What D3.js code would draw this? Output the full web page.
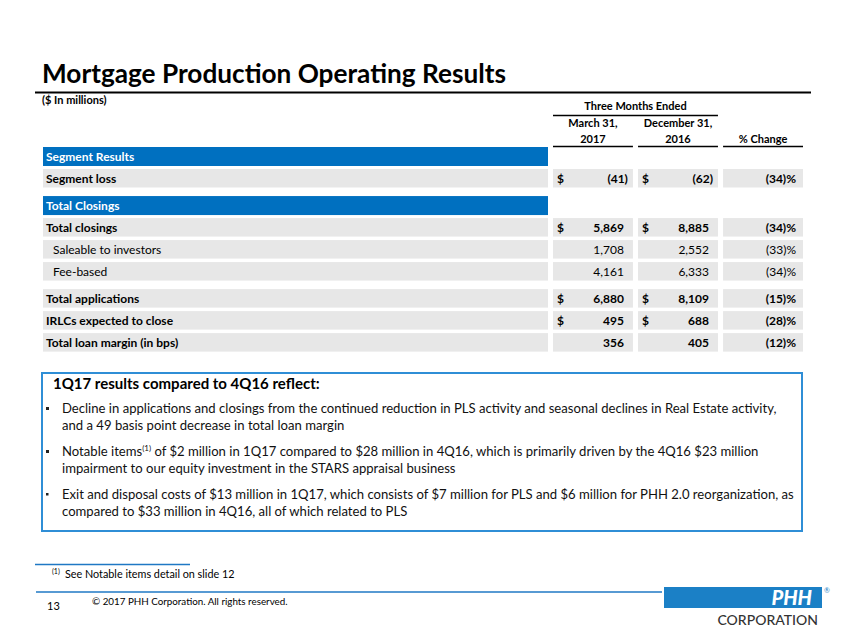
<!DOCTYPE html>
<html>
<head>
<meta charset="utf-8">
<script src="https://cdn.jsdelivr.net/npm/d3@7"></script>
<style>
  body { margin: 0; background: #fff; }
  text { font-family: Lato, "Open Sans", sans-serif; }
</style>
</head>
<body>
<svg id="chart" width="847" height="635"></svg>
<script>
let width = 847;
let height = 635;

let sections = ["Segment Results", "Total Closings"];
let rowLabels = ["Segment loss", "Total closings", "Saleable to investors", "Fee-based",
                 "Total applications", "IRLCs expected to close", "Total loan margin (in bps)"];
let rowGroup = [0, 1, 1, 1, 2, 2, 2];
let march2017 = [-41, 5869, 1708, 4161, 6880, 495, 356];
let dec2016 = [-62, 8885, 2552, 6333, 8109, 688, 405];
let pctChange = [-34, -34, -33, -34, -15, -28, -12];
let hasDollar = [true, true, false, false, true, true, false];
let isSubRow = [false, false, true, true, false, false, false];

let columnKeys = ["mar", "dec", "pct"];
let columnHeads = [["March 31,", "2017"], ["December 31,", "2016"], ["", "% Change"]];

let bullets = [
    ["Decline in applications and closings from the continued reduction in PLS activity and seasonal declines in Real Estate activity,",
     "and a 49 basis point decrease in total loan margin"],
    ["Notable items^ of $2 million in 1Q17 compared to $28 million in 4Q16, which is primarily driven by the 4Q16 $23 million",
     "impairment to our equity investment in the STARS appraisal business"],
    ["Exit and disposal costs of $13 million in 1Q17, which consists of $7 million for PLS and $6 million for PHH 2.0 reorganization, as",
     "compared to $33 million in 4Q16, all of which related to PLS"]
];

let blue = "#0070c0";
let lightBlue = "#2f8ed6";
let grey = "#e7e7e7";

let svg = d3.select("#chart");

let scaleRow = d3.scaleLinear().domain([0, 1]).range([147, 169]);
let scaleCol = d3.scaleBand().domain(columnKeys).range([553, 803]).paddingInner(0.06);
let labelLeft = 43, labelRight = 548;
let rowH = 18.5;

(function () {
    drawTitle();
    drawHeads();
    drawTable();
    drawBox();
    drawFooter();
}());

function buildRows() {
    let rows = [];
    let slot = 0;
    let lastGroup = -1;
    rowLabels.forEach(function(label, i) {
        let g = rowGroup[i];
        if (g !== lastGroup && sections[g]) {
            rows.push({ type: "head", label: sections[g], slot: slot + 0.23 * g });
            slot++;
        }
        lastGroup = g;
        rows.push({ type: "row", label: label, slot: slot + 0.23 * g, i: i,
            values: { mar: march2017[i], dec: dec2016[i], pct: pctChange[i] } });
        slot++;
    });
    return rows;
}

function drawTitle() {
    svg.append("text")
        .attr("x", 42).attr("y", 83)
        .style("font-size", "26.2px").style("font-weight", 700)
        .text("Mortgage Production Operating Results");
    svg.append("line")
        .attr("x1", 35).attr("x2", 811).attr("y1", 92.5).attr("y2", 92.5)
        .attr("stroke", "#000").attr("stroke-width", 2);
    svg.append("text")
        .attr("x", 42).attr("y", 104)
        .style("font-size", "11px").style("font-weight", 700)
        .text("($ In millions)");
}

function drawHeads() {
    let x0 = scaleCol("mar"), x1 = scaleCol("dec") + scaleCol.bandwidth();
    svg.append("text")
        .attr("x", (x0 + x1) / 2).attr("y", 110)
        .attr("text-anchor", "middle")
        .style("font-size", "11px").style("font-weight", 700)
        .text("Three Months Ended");
    svg.append("line")
        .attr("x1", x0).attr("x2", x1).attr("y1", 115.5).attr("y2", 115.5)
        .attr("stroke", "#000").attr("stroke-width", 1.5);

    columnKeys.forEach(function(key, index) {
        let cx = scaleCol(key) + scaleCol.bandwidth() / 2;
        columnHeads[index].forEach(function(t, j) {
            svg.append("text")
                .attr("x", cx).attr("y", 127 + j * 16)
                .attr("text-anchor", "middle")
                .style("font-size", "11px").style("font-weight", 700)
                .text(t);
        });
        svg.append("line")
            .attr("x1", scaleCol(key)).attr("x2", scaleCol(key) + scaleCol.bandwidth())
            .attr("y1", 146.5).attr("y2", 146.5)
            .attr("stroke", "#000").attr("stroke-width", 1.5);
    });
}

function drawTable() {
    let rows = buildRows();
    let fmt = d3.format(",");

    rows.forEach(function(r) {
        let top = scaleRow(r.slot);
        if (r.type === "head") {
            svg.append("rect")
                .attr("x", labelLeft).attr("y", top)
                .attr("width", labelRight - labelLeft).attr("height", rowH + 0.5)
                .attr("fill", blue);
            svg.append("text")
                .attr("x", labelLeft + 3).attr("y", top + 14)
                .attr("fill", "#fff")
                .style("font-size", "12px").style("font-weight", 700)
                .text(r.label);
            return;
        }
        let bold = !isSubRow[r.i];
        let weight = bold ? 700 : 400;

        svg.append("rect")
            .attr("x", labelLeft).attr("y", top)
            .attr("width", labelRight - labelLeft).attr("height", rowH)
            .attr("fill", grey);
        svg.append("text")
            .attr("x", labelLeft + (bold ? 3 : 10)).attr("y", top + 13.5)
            .style("font-size", "12px").style("font-weight", weight)
            .text(r.label);

        columnKeys.forEach(function(key) {
            let bx = scaleCol(key), bw = scaleCol.bandwidth();
            let v = r.values[key];
            svg.append("rect")
                .attr("x", bx).attr("y", top)
                .attr("width", bw).attr("height", rowH)
                .attr("fill", grey);

            if (key === "pct") {
                svg.append("text")
                    .attr("x", bx + bw - 7).attr("y", top + 13.5)
                    .attr("text-anchor", "end")
                    .style("font-size", "12px").style("font-weight", weight)
                    .text(v < 0 ? "(" + fmt(-v) + ")%" : fmt(v) + "%");
                return;
            }
            if (hasDollar[r.i]) {
                svg.append("text")
                    .attr("x", bx + 4).attr("y", top + 13.5)
                    .style("font-size", "12px").style("font-weight", weight)
                    .text("$");
            }
            svg.append("text")
                .attr("x", v < 0 ? bx + bw - 5 : bx + bw - 9).attr("y", top + 13.5)
                .attr("text-anchor", "end")
                .style("font-size", "12px").style("font-weight", weight)
                .text(v < 0 ? "(" + fmt(-v) + ")" : fmt(v));
        });
    });
}

function drawBox() {
    svg.append("rect")
        .attr("x", 42).attr("y", 373).attr("width", 760).attr("height", 158)
        .attr("fill", "none").attr("stroke", lightBlue).attr("stroke-width", 2);
    svg.append("text")
        .attr("x", 53).attr("y", 389)
        .style("font-size", "15px").style("font-weight", 700)
        .text("1Q17 results compared to 4Q16 reflect:");

    let lineH = 16.5;
    bullets.forEach(function(b, i) {
        let y0 = 413 + i * 43;
        svg.append("rect")
            .attr("x", 46).attr("y", y0 - 6)
            .attr("width", i < 2 ? 3 : 2.5).attr("height", i < 2 ? 3 : 2.5)
            .attr("fill", "#222");
        b.forEach(function(line, j) {
            let t = svg.append("text")
                .attr("x", 62).attr("y", y0 + j * lineH)
                .attr("fill", "#111")
                .style("font-size", "13.1px");
            let parts = line.split("^");
            t.append("tspan").text(parts[0]);
            if (parts.length > 1) {
                t.append("tspan").attr("dy", -5).style("font-size", "8px").text("(1)");
                t.append("tspan").attr("dy", 5).text(parts[1]);
            }
        });
    });
}

function drawFooter() {
    svg.append("line")
        .attr("x1", 35).attr("x2", 190).attr("y1", 564.5).attr("y2", 564.5)
        .attr("stroke", "#1f78c4").attr("stroke-width", 1.5);
    svg.append("text")
        .attr("x", 52).attr("y", 574)
        .style("font-size", "7px")
        .text("(1)");
    svg.append("text")
        .attr("x", 65).attr("y", 578)
        .style("font-size", "10.8px")
        .text("See Notable items detail on slide 12");

    svg.append("line")
        .attr("x1", 36).attr("x2", 662).attr("y1", 592).attr("y2", 592)
        .attr("stroke", "#1f78c4").attr("stroke-width", 1.5);
    svg.append("text")
        .attr("x", 47).attr("y", 610)
        .style("font-size", "11px")
        .text("13");
    svg.append("text")
        .attr("x", 92).attr("y", 605)
        .style("font-size", "9.8px")
        .text("\u00a9  2017 PHH Corporation. All rights reserved.");

    // logo
    svg.append("rect")
        .attr("x", 664).attr("y", 587).attr("width", 158).attr("height", 21)
        .attr("fill", "#1b80c6");
    svg.append("text")
        .attr("x", 812).attr("y", 605)
        .attr("text-anchor", "end")
        .attr("fill", "#fff")
        .style("font-size", "20px").style("font-weight", 900).style("font-style", "italic")
        .text("PHH");
    svg.append("text")
        .attr("x", 824).attr("y", 593)
        .attr("fill", "#1b80c6")
        .style("font-size", "7px")
        .text("\u00ae");
    svg.append("text")
        .attr("x", 818).attr("y", 625)
        .attr("text-anchor", "end")
        .attr("fill", "#333")
        .style("font-size", "14px").style("font-weight", 500)
        .text("CORPORATION");
}
</script>
</body>
</html>
